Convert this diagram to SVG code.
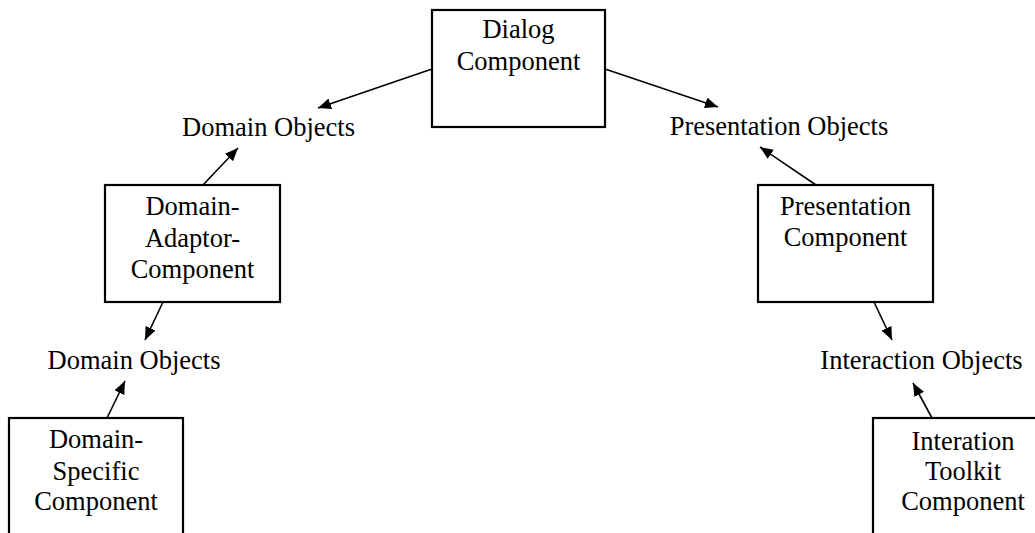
<svg xmlns="http://www.w3.org/2000/svg" width="1035" height="533" viewBox="0 0 1035 533">
<style>
.box{fill:#fff;stroke:#000;stroke-width:2.2}
.t{font-family:"Liberation Serif","Times New Roman",serif;font-size:26.5px;fill:#000;text-anchor:middle}
.c{stroke:#000;stroke-width:1.6;fill:none;marker-end:url(#ah)}
</style>
<defs>
<marker id="ah" markerUnits="userSpaceOnUse" markerWidth="14" markerHeight="12" refX="13" refY="5.5" orient="auto">
<path d="M0,0 L13,5.5 L0,11 z" fill="#000"/>
</marker>
</defs>
<rect width="1035" height="533" fill="#fff"/>
<g id="connectors">
<line class="c" x1="432" y1="69" x2="318" y2="108"/>
<line class="c" x1="605" y1="69" x2="718" y2="107"/>
<line class="c" x1="203" y1="185" x2="238" y2="148"/>
<line class="c" x1="816" y1="185" x2="760" y2="147"/>
<line class="c" x1="163" y1="302" x2="145" y2="340"/>
<line class="c" x1="107" y1="418" x2="125" y2="381"/>
<line class="c" x1="874" y1="302" x2="892" y2="340"/>
<line class="c" x1="932" y1="418" x2="913" y2="383"/>
</g>
<g id="dialog">
<rect class="box" x="432" y="10" width="173" height="117"/>
<text class="t" x="518.5" y="38">Dialog</text>
<text class="t" x="518.5" y="70">Component</text>
</g>
<g id="domain-objects-top">
<text class="t" x="268.5" y="136">Domain Objects</text>
</g>
<g id="presentation-objects">
<text class="t" x="779" y="135">Presentation Objects</text>
</g>
<g id="domain-adaptor">
<rect class="box" x="105" y="185" width="175" height="117"/>
<text class="t" x="192.5" y="215">Domain-</text>
<text class="t" x="192.5" y="247">Adaptor-</text>
<text class="t" x="192.5" y="278">Component</text>
</g>
<g id="presentation-component">
<rect class="box" x="758" y="185" width="175" height="117"/>
<text class="t" x="845.5" y="215">Presentation</text>
<text class="t" x="845.5" y="246">Component</text>
</g>
<g id="domain-objects-bottom">
<text class="t" x="134" y="369">Domain Objects</text>
</g>
<g id="interaction-objects">
<text class="t" x="921.5" y="369">Interaction Objects</text>
</g>
<g id="domain-specific">
<rect class="box" x="9" y="418" width="174" height="130"/>
<text class="t" x="96" y="448">Domain-</text>
<text class="t" x="96" y="480">Specific</text>
<text class="t" x="96" y="510">Component</text>
</g>
<g id="interation-toolkit">
<rect class="box" x="873" y="418" width="180" height="130"/>
<text class="t" x="963" y="450">Interation</text>
<text class="t" x="963" y="480">Toolkit</text>
<text class="t" x="963" y="510">Component</text>
</g>
</svg>
